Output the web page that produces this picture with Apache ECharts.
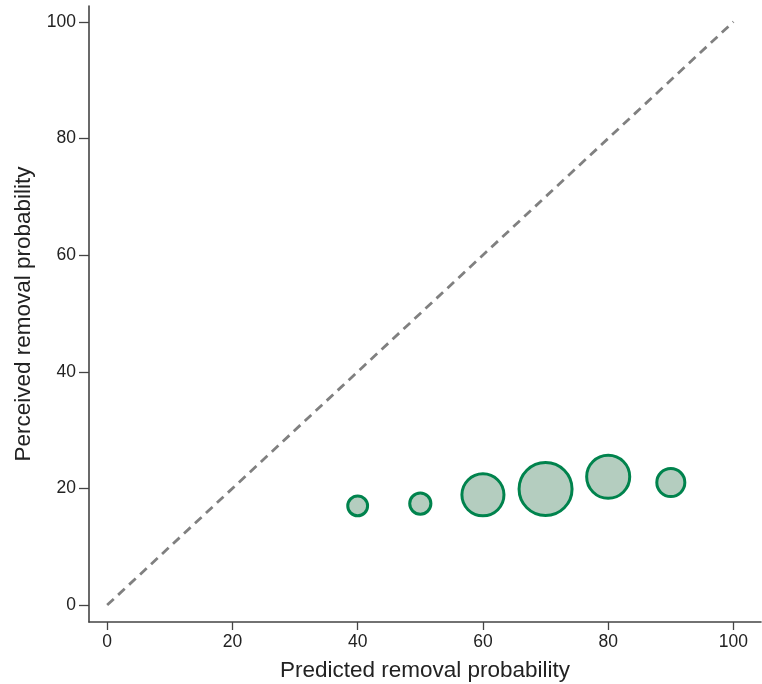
<!DOCTYPE html>
<html>
<head>
<meta charset="utf-8">
<script src="https://cdn.jsdelivr.net/npm/echarts@6/dist/echarts.min.js"></script>
<style>
  html, body { margin: 0; padding: 0; background: #fff; }
  #chart { width: 762px; height: 684px; }
</style>
</head>
<body>
<div id="chart"></div>
<script>
// predicted (x), perceived (y), relative group size (bubble area)
const predicted = [40, 50, 60, 70, 80, 90]
const perceived = [17.0, 17.4, 18.9, 19.9, 22.0, 21.0]
const groupSize = [14, 16, 63, 100, 66, 28]
const tickValues = [0, 20, 40, 60, 80, 100]

const font = '"Liberation Sans", Arial, Helvetica, sans-serif'

const points = predicted.map((x, i) => [x, perceived[i], groupSize[i]])

const chart = echarts.init(document.getElementById('chart'))
chart.setOption({
  animation: false,
  grid: { left: 89, right: 1, top: 6, bottom: 62, containLabel: false, outerBoundsMode: 'none' },
  xAxis: {
    type: 'value',
    min: -2.9,
    max: 104.4,
    name: 'Predicted removal probability',
    nameLocation: 'middle',
    nameGap: 37,
    nameTextStyle: { fontFamily: font, fontSize: 22.5, color: '#222' },
    axisLine: { show: true, onZero: false, lineStyle: { color: '#444', width: 1.6 } },
    axisTick: { show: true, length: 8, customValues: tickValues, lineStyle: { color: '#444', width: 1.3 } },
    axisLabel: { customValues: tickValues, fontFamily: font, fontSize: 17.5, color: '#222', margin: 11 },
    splitLine: { show: false }
  },
  yAxis: {
    type: 'value',
    min: -2.9,
    max: 102.7,
    name: 'Perceived removal probability',
    nameLocation: 'middle',
    nameGap: 54,
    nameTextStyle: { fontFamily: font, fontSize: 22.5, color: '#222' },
    axisLine: { show: true, onZero: false, lineStyle: { color: '#444', width: 1.6 } },
    axisTick: { show: true, length: 10, customValues: tickValues, lineStyle: { color: '#444', width: 1.3 } },
    axisLabel: { customValues: tickValues, fontFamily: font, fontSize: 17.5, color: '#222', margin: 13 },
    splitLine: { show: false }
  },
  series: [
    {
      type: 'line',
      data: [[0, 0], [100, 100]],
      showSymbol: false,
      silent: true,
      lineStyle: { color: '#808080', width: 2.8, type: [9, 6] }
    },
    {
      type: 'scatter',
      data: points,
      symbolSize: function (d) { return 5.3 * Math.sqrt(d[2]) },
      itemStyle: { color: '#b4cdbf', borderColor: '#00834d', borderWidth: 3, opacity: 1 }
    }
  ]
})
window.addEventListener('resize', function () {
  chart && chart.resize()
})
</script>
</body>
</html>
